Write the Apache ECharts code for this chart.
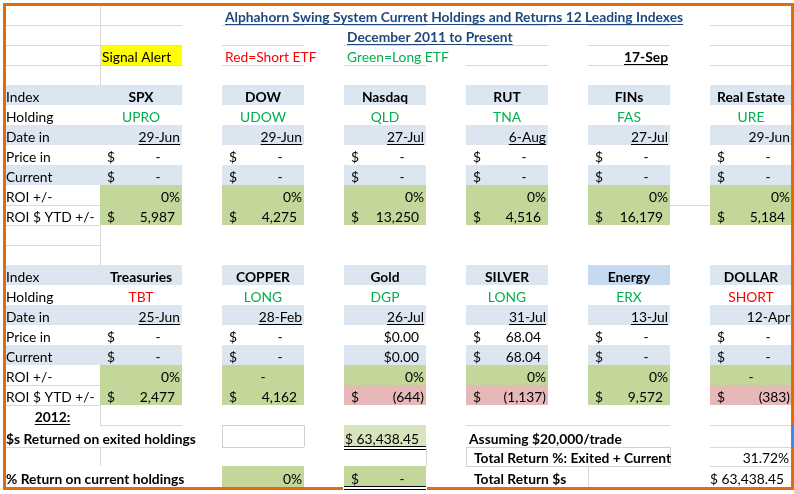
<!DOCTYPE html>
<html><head><meta charset="utf-8">
<script src="https://cdn.jsdelivr.net/npm/echarts@6/dist/echarts.min.js"></script>
<style>html,body{margin:0;padding:0;background:#fff}#c{width:794px;height:494px}</style>
</head><body><div id="c"></div>
<script>
// ================= DATA =================
const titleText = 'Alphahorn Swing System Current Holdings and Returns 12 Leading Indexes';
const subtitleText = 'December 2011 to Present';
const signalText = 'Signal Alert';
const legendShort = 'Red=Short ETF';
const legendLong = 'Green=Long ETF';
const asOfDate = '17-Sep';
const rowLabels = ['Index', 'Holding', 'Date in', 'Price in', 'Current', 'ROI +/-', 'ROI $ YTD +/-'];

const indexes1 = ['SPX', 'DOW', 'Nasdaq', 'RUT', 'FINs', 'Real Estate'];
const holdings1 = ['UPRO', 'UDOW', 'QLD', 'TNA', 'FAS', 'URE'];
const sides1 = ['L', 'L', 'L', 'L', 'L', 'L'];
const dates1 = ['29-Jun', '29-Jun', '27-Jul', '6-Aug', '27-Jul', '29-Jun'];
const priceIn1 = [0, 0, 0, 0, 0, 0];
const current1 = [0, 0, 0, 0, 0, 0];
const roiPct1 = [0, 0, 0, 0, 0, 0];
const roiUsd1 = [5987, 4275, 13250, 4516, 16179, 5184];

const indexes2 = ['Treasuries', 'COPPER', 'Gold', 'SILVER', 'Energy', 'DOLLAR'];
const holdings2 = ['TBT', 'LONG', 'DGP', 'LONG', 'ERX', 'SHORT'];
const sides2 = ['S', 'L', 'L', 'L', 'L', 'S'];
const dates2 = ['25-Jun', '28-Feb', '26-Jul', '31-Jul', '13-Jul', '12-Apr'];
const priceIn2 = [0, 0, 0, 68.04, 0, 0];
const current2 = [0, 0, 0, 68.04, 0, 0];
const roiPct2 = [0, null, 0, 0, 0, null];
const roiUsd2 = [2477, 4162, -644, -1137, 9572, -383];

const yearLabel = '2012:';
const exitedLabel = '$s Returned on exited holdings';
const exitedReturn = 63438.45;
const currentLabel = '% Return on current holdings';
const currentReturnPct = 0;
const currentReturnUsd = 0;
const tradeLabel = 'Assuming $20,000/trade';
const totalPctLabel = 'Total Return %: Exited + Current';
const totalPct = 31.72;
const totalUsdLabel = 'Total Return $s';
const totalUsd = 63438.45;

// ================= LAYOUT / STYLE =================
const W = 794, H = 494;
const FONT_FAMILY = 'Lato, "Noto Sans", sans-serif';
const FS = 13.8;
const C = {
  blue: '#DCE6F1', blue2: '#C5D9F1', green: '#C4D79B', lgreen: '#D8E4BC', pink: '#E6B8B7',
  yellow: '#FFFF00', orange: '#E36C0A', grid: '#D9D9D9', title: '#1F497D',
  red: '#FF0000', grn: '#00B050', text: '#000000', sel: '#3A8EE6'
};
const ROW_EDGES = [];
for (let r = 0; r <= 21; r++) ROW_EDGES.push(5 + 20 * r);
ROW_EDGES.push(447, 466, 487);
const rT = r => ROW_EDGES[r], rB = r => ROW_EDGES[r + 1];
const LABEL_L = 3, LABEL_R = 100, COL_W = 82, PITCH = 122;
const colL = k => LABEL_R + PITCH * k;
const colR = k => colL(k) + COL_W;
const dateUl1 = [1, 1, 1, 1, 1, 0];
const dateUl2 = [1, 1, 1, 1, 1, 0];
const headFill2 = ['blue', 'blue', 'blue', 'blue', 'blue2', 'blue'];
const priceFmt2 = ['acct', 'acct', 'cur', 'acct', 'acct', 'acct'];

// ================= HELPERS =================
const mctx = document.createElement('canvas').getContext('2d');
function fontOf(bold) { return (bold ? 'bold ' : '') + FS + 'px ' + FONT_FAMILY; }
function tw(t, bold) { mctx.font = fontOf(bold); return mctx.measureText(t).width; }
function commas(s) { return s.replace(/\B(?=(\d{3})+(?!\d))/g, ','); }
function fmtNum(v, dec) {
  const s = Math.abs(v).toFixed(dec);
  const parts = s.split('.');
  return commas(parts[0]) + (parts[1] ? '.' + parts[1] : '');
}

const fills = [];   // {x0,y0,x1,y1,fill}
const strokes = []; // {x0,y0,x1,y1,color}
const texts = [];   // {t,x,y,align,color,bold}
const borders = []; // {x0,y0,x1,y1,fill}

function fill(x0, y0, x1, y1, f) { fills.push({ x0, y0, x1, y1, fill: f }); }
function line(x0, y0, x1, y1, color) { strokes.push({ x0, y0, x1, y1, color: color || C.grid }); }
function box(x0, y0, x1, y1, color) {
  line(x0, y0, x1, y0, color); line(x0, y1, x1, y1, color);
  line(x0, y0, x0, y1, color); line(x1, y0, x1, y1, color);
}
function txt(t, x, r, align, opt) {
  opt = opt || {};
  const base = rB(r) - 3.4;
  texts.push({ t, x, y: base - 0.32 * FS, align, color: opt.color || C.text, bold: !!opt.bold });
  if (opt.ul) {
    const w = tw(t, opt.bold);
    let x0 = align === 'left' ? x : align === 'right' ? x - w : x - w / 2;
    line(x0, base + 2, x0 + w, base + 2, opt.color || C.text);
  }
}
function dblUl(x0, x1, r) {
  line(x0, rB(r) - 1, x1, rB(r) - 1, C.text);
  line(x0, rB(r) + 1.5, x1, rB(r) + 1.5, C.text);
}
function acct(k, r, v, dec) {
  const x0 = colL(k), x1 = colR(k);
  txt('$', x0 + 7, r, 'left');
  if (v === 0) txt('-', x1 - 24, r, 'center');
  else if (v > 0) txt(fmtNum(v, dec), x1 - 7, r, 'right');
  else txt('(' + fmtNum(v, dec) + ')', x1 - 2, r, 'right');
}

// ================= BUILD =================
[25, 45, 65].forEach(y => {
  line(5, y, LABEL_R, y);
  for (let k = 0; k < 6; k++) line(colL(k), y, Math.min(colR(k), 791), y);
});
line(LABEL_R, 3, LABEL_R, 85);
line(LABEL_R, 225, LABEL_R, 265);
line(5, 225, LABEL_R, 225); line(5, 245, LABEL_R, 245);
line(colR(4), 205, colL(5), 205);

txt(titleText, colL(1) + 3, 0, 'left', { bold: true, color: C.title, ul: true });
txt(subtitleText, colL(2) + 3, 1, 'left', { bold: true, color: C.title, ul: true });
fill(colL(0), rT(2), colR(0), rB(2), C.yellow);
txt(signalText, colL(0) + 2, 2, 'left');
txt(legendShort, colL(1) + 3, 2, 'left', { color: C.red });
txt(legendLong, colL(2) + 3, 2, 'left', { color: C.grn });
txt(asOfDate, colR(4) - 2, 2, 'right', { bold: true, ul: true });

function block(r0, idx, hold, sides, dates, pIn, cur, roiP, roiU, dUl, hFill, pFmt) {
  [0, 2, 4].forEach(d => fill(LABEL_L, rT(r0 + d), LABEL_R, rB(r0 + d), C.blue));
  rowLabels.forEach((l, d) => txt(l, 6, r0 + d, 'left'));
  line(5, rT(r0 + 6), LABEL_R, rT(r0 + 6));
  line(5, rB(r0 + 6), LABEL_R, rB(r0 + 6));
  for (let k = 0; k < idx.length; k++) {
    const x0 = colL(k), x1 = colR(k), xc = (x0 + x1) / 2;
    fill(x0, rT(r0), x1, rB(r0), C[hFill ? hFill[k] : 'blue']);
    txt(idx[k], xc, r0, 'center', { bold: true });
    txt(hold[k], xc, r0 + 1, 'center', { color: sides[k] === 'S' ? C.red : C.grn });
    fill(x0, rT(r0 + 2), x1, rB(r0 + 2), C.blue);
    txt(dates[k], x1 - 2, r0 + 2, 'right', { ul: !!dUl[k] });
    fill(x0, rT(r0 + 4), x1, rB(r0 + 4), C.blue);
    if (pFmt && pFmt[k] === 'cur') {
      txt('$' + fmtNum(pIn[k], 2), x1 - 7, r0 + 3, 'right');
      txt('$' + fmtNum(cur[k], 2), x1 - 7, r0 + 4, 'right');
    } else {
      acct(k, r0 + 3, pIn[k], 2);
      acct(k, r0 + 4, cur[k], 2);
    }
    fill(x0, rT(r0 + 5), x1, rB(r0 + 5), C.green);
    if (roiP[k] === null) txt('-', xc, r0 + 5, 'center');
    else txt(roiP[k] + '%', x1 - 2, r0 + 5, 'right');
    fill(x0, rT(r0 + 6), x1, rB(r0 + 6), roiU[k] < 0 ? C.pink : C.green);
    acct(k, r0 + 6, roiU[k], 0);
  }
}
block(4, indexes1, holdings1, sides1, dates1, priceIn1, current1, roiPct1, roiUsd1, dateUl1, null, null);
block(13, indexes2, holdings2, sides2, dates2, priceIn2, current2, roiPct2, roiUsd2, dateUl2, headFill2, priceFmt2);

// summary
txt(yearLabel, (5 + LABEL_R) / 2, 20, 'center', { bold: true, ul: true });
line(LABEL_R, rT(20), LABEL_R, rB(20));
line(colL(0), rT(21), colR(0), rT(21));
line(5, rB(21), colR(0), rB(21));
line(LABEL_R, rB(21), LABEL_R, rB(22));
txt(exitedLabel, 6, 21, 'left', { bold: true });
box(colL(1), rT(21), colR(1), rB(21), '#D0D0D0');
fill(colL(2), rT(21), colR(2), rB(21), C.lgreen);
txt('$ ' + fmtNum(exitedReturn, 2), colR(2) - 7, 21, 'right');
dblUl(colL(2), colR(2), 21);
line(colR(2), rT(22), colR(2), rB(22));
line(colL(3), rT(21), colR(4), rT(21));
txt(tradeLabel, colL(3) + 3, 21, 'left', { bold: true });
line(colL(5), rT(21), 791, rT(21));
line(colL(5), rB(21), 791, rB(21));
line(colL(5), rB(22), 791, rB(22));
box(colL(3), rT(22), colR(4), rB(22), '#D0D0D0');
txt(totalPctLabel, colL(3) + 8, 22, 'left', { bold: true });
txt(totalPct.toFixed(2) + '%', 789, 22, 'right');

txt(currentLabel, 6, 23, 'left', { bold: true });
fill(colL(1), rT(23), colR(1), rB(23), C.green);
txt(currentReturnPct + '%', colR(1) - 2, 23, 'right');
fill(colL(2), rT(23), colR(2), rB(23), C.green);
acct(2, 23, currentReturnUsd, 0);
dblUl(colL(2), colR(2), 23);
line(colL(4), rT(23), colL(4), rB(23));
txt(totalUsdLabel, colL(3) + 8, 23, 'left', { bold: true });
txt('$ ' + fmtNum(totalUsd, 2), colR(5) - 8, 23, 'right');

// outer orange frame + selection marker
borders.push({ x0: 3, y0: 3, x1: 794, y1: 6, fill: C.orange });
borders.push({ x0: 3, y0: 3, x1: 6, y1: 490, fill: C.orange });
borders.push({ x0: 791, y0: 3, x1: 794, y1: 425, fill: C.orange });
borders.push({ x0: 791, y0: 425, x1: 794, y1: 447, fill: C.sel });
borders.push({ x0: 791, y0: 447, x1: 794, y1: 490, fill: C.orange });
borders.push({ x0: 3, y0: 487, x1: colL(2) - 1, y1: 490, fill: C.orange });
borders.push({ x0: colR(2) + 1, y0: 487, x1: 794, y1: 490, fill: C.orange });

// ================= RENDER =================
function rectSeries(list, z) {
  return {
    type: 'custom', z, silent: true, clip: false,
    data: list.map(c => [c.x0, c.y0, c.x1, c.y1]),
    encode: { x: [0, 2], y: [1, 3] },
    renderItem: (p, api) => {
      const a = api.coord([api.value(0), api.value(1)]);
      const b = api.coord([api.value(2), api.value(3)]);
      return { type: 'rect', shape: { x: a[0], y: a[1], width: b[0] - a[0], height: b[1] - a[1] },
        style: { fill: list[p.dataIndex].fill } };
    }
  };
}
const option = {
  animation: false,
  grid: { left: 0, right: 0, top: 0, bottom: 0 },
  xAxis: { type: 'value', min: 0, max: W, show: false },
  yAxis: { type: 'value', min: 0, max: H, inverse: true, show: false },
  series: [
    rectSeries(fills, 1),
    {
      type: 'custom', z: 2, silent: true, clip: false,
      data: strokes.map(s => [s.x0, s.y0, s.x1, s.y1]),
      encode: { x: [0, 2], y: [1, 3] },
      renderItem: (p, api) => {
        const a = api.coord([api.value(0), api.value(1)]);
        const b = api.coord([api.value(2), api.value(3)]);
        const off = v => Math.round(v) + 0.5;
        const horiz = Math.abs(a[1] - b[1]) < 0.01;
        return { type: 'line',
          shape: horiz ? { x1: a[0], y1: off(a[1]), x2: b[0], y2: off(b[1]) }
                       : { x1: off(a[0]), y1: a[1], x2: off(b[0]), y2: b[1] },
          style: { stroke: strokes[p.dataIndex].color, lineWidth: 1 } };
      }
    },
    {
      type: 'custom', z: 3, silent: true, clip: false,
      data: texts.map(t => [t.x, t.y]),
      encode: { x: 0, y: 1 },
      renderItem: (p, api) => {
        const t = texts[p.dataIndex];
        const a = api.coord([api.value(0), api.value(1)]);
        return { type: 'text', x: a[0], y: a[1],
          style: { text: t.t, fill: t.color, font: fontOf(t.bold), align: t.align, verticalAlign: 'middle' } };
      }
    },
    rectSeries(borders, 4)
  ]
};
const chart = echarts.init(document.getElementById('c'), null, { renderer: 'canvas' });
chart.setOption(option);
</script>
</body></html>
